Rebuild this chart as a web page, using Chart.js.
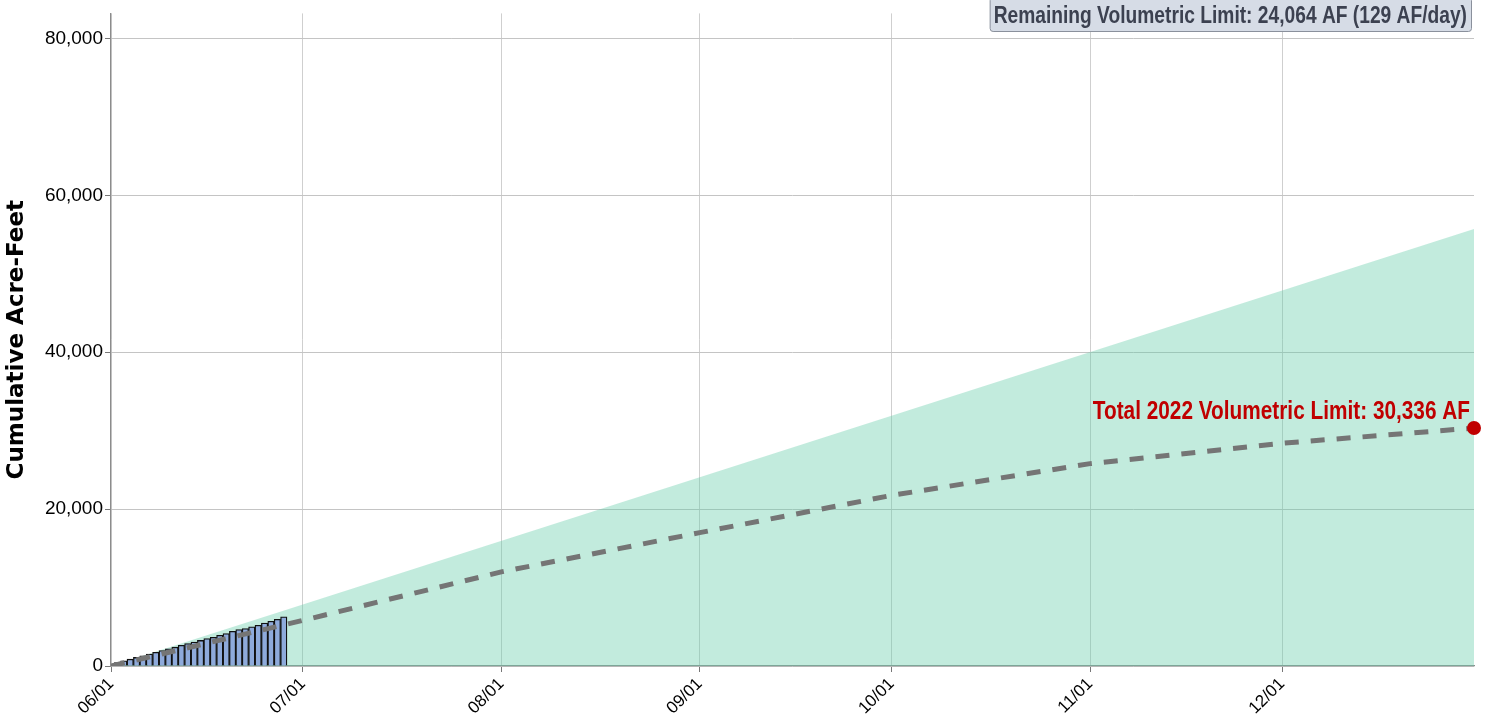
<!DOCTYPE html>
<html>
<head>
<meta charset="utf-8">
<script src="https://cdn.jsdelivr.net/npm/chart.js@4/dist/chart.umd.min.js"></script>
<style>
  html, body { margin: 0; padding: 0; background: #fff; }
  #wrap { width: 1490px; height: 726px; position: relative; }
</style>
</head>
<body>
<div id="wrap"><canvas id="volChart"></canvas></div>
<script>
/* values (x = days since 06/01) */
const tickDays = [0, 30, 61, 92, 122, 153, 183];
const tickLabels = ['06/01', '07/01', '08/01', '09/01', '10/01', '11/01', '12/01'];
const yTicks = [0, 20000, 40000, 60000, 80000];

const usedDays = [0, 1, 2, 3, 4, 5, 6, 7, 8, 9, 10, 11, 12, 13,
                  14, 15, 16, 17, 18, 19, 20, 21, 22, 23, 24, 25, 26, 27];
const usedValues = [210, 430, 650, 870, 1090, 1310, 1520, 1740, 1960, 2180, 2400, 2640, 2850, 3060,
                    3260, 3500, 3650, 3920, 4130, 4430, 4640, 4780, 4990, 5200, 5480, 5710, 5960, 6272];

const projDays = [0, 30, 61, 92, 122, 153, 183, 213];
const projValues = [0, 5820, 12000, 17000, 21750, 25800, 28400, 30336];

const limitDays = [0, 213];
const limitValues = [0, 55700];

const totalDay = 213;
const totalLimit = 30336;
const totalText = 'Total 2022 Volumetric Limit: 30,336 AF';
const remainingText = 'Remaining Volumetric Limit: 24,064 AF (129 AF/day)';

const SANS = '"Liberation Sans", Arial, sans-serif';
const SQUEEZE = 0.8; // fake a narrow face: no condensed font installed

// draw text squeezed horizontally, anchored like textAlign
function narrowText(ctx, text, x, y, align) {
  const w = ctx.measureText(text).width * SQUEEZE;
  let left = x;
  if (align === 'right') left = x - w;
  if (align === 'center') left = x - w / 2;
  ctx.save();
  ctx.translate(left, y);
  ctx.scale(SQUEEZE, 1);
  ctx.textAlign = 'left';
  ctx.fillText(text, 0, 0);
  ctx.restore();
  return w;
}

/* text notes: red total label + grey box at top right */
const notes = {
  id: 'notes',
  afterDatasetsDraw(chart) {
    const {ctx, chartArea, scales: {x, y}} = chart;
    const px = x.getPixelForValue(totalDay);
    const py = y.getPixelForValue(totalLimit);
    ctx.save();
    ctx.font = 'bold 26px ' + SANS;
    ctx.fillStyle = '#c00000';
    ctx.textBaseline = 'alphabetic';
    narrowText(ctx, totalText, px - 4, py - 9, 'right');

    ctx.font = 'bold 24px ' + SANS;
    const w = ctx.measureText(remainingText).width * SQUEEZE + 8;
    const right = chartArea.right - 3, top = -3, h = 34;
    ctx.beginPath();
    if (ctx.roundRect) ctx.roundRect(right - w + 0.5, top + 0.5, w, h, 3);
    else ctx.rect(right - w + 0.5, top + 0.5, w, h);
    ctx.fillStyle = '#d6dce6';
    ctx.fill();
    ctx.lineWidth = 1;
    ctx.strokeStyle = '#8a909c';
    ctx.stroke();
    ctx.fillStyle = '#3c4150';
    ctx.textBaseline = 'middle';
    narrowText(ctx, remainingText, right - w / 2, top + h / 2 + 2, 'center');
    ctx.restore();
  }
};

const toPoints = (xs, ys) => xs.map((d, i) => ({x: d, y: ys[i]}));

const volChart = new Chart(document.getElementById('volChart'), {
  data: {
    datasets: [
      {
        type: 'line',
        data: toPoints([totalDay], [totalLimit]),
        showLine: false,
        pointRadius: 7,
        pointHoverRadius: 7,
        pointBackgroundColor: '#c00000',
        pointBorderWidth: 0,
        clip: false,
        order: 0
      },
      {
        type: 'line',
        data: toPoints(projDays, projValues),
        borderColor: '#757575',
        borderWidth: 5,
        borderDash: [14, 12],
        pointRadius: 0,
        fill: false,
        tension: 0,
        order: 1
      },
      {
        type: 'bar',
        data: toPoints(usedDays, usedValues),
        backgroundColor: '#8eaadb',
        borderColor: '#111111',
        borderWidth: 1.3,
        barPercentage: 1,
        categoryPercentage: 1,
        order: 2
      },
      {
        type: 'line',
        data: toPoints(limitDays, limitValues),
        borderWidth: 0,
        pointRadius: 0,
        fill: 'origin',
        backgroundColor: 'rgba(102, 204, 170, 0.4)',
        order: 3
      }
    ]
  },
  options: {
    responsive: true,
    maintainAspectRatio: false,
    animation: false,
    layout: { padding: { top: 8, right: 16, left: 0, bottom: 0 } },
    plugins: {
      legend: { display: false },
      tooltip: { enabled: false }
    },
    scales: {
      x: {
        type: 'linear',
        min: 0,
        max: 213,
        offset: false,
        afterBuildTicks: (scale) => { scale.ticks = tickDays.map(v => ({value: v})); },
        afterFit: (scale) => { scale.height = 60; },
        ticks: {
          autoSkip: false,
          minRotation: 45,
          maxRotation: 45,
          padding: 2,
          color: '#000',
          font: { family: SANS, size: 17 },
          callback: (v) => tickLabels[tickDays.indexOf(v)]
        },
        grid: { offset: false, color: '#cfcfcf', tickColor: '#777', tickLength: 6 },
        border: { color: '#8c8c8c', width: 1.2 }
      },
      y: {
        min: 0,
        max: 83200,
        afterBuildTicks: (scale) => { scale.ticks = yTicks.map(v => ({value: v})); },
        afterFit: (scale) => { scale.width = 111; },
        ticks: {
          padding: 2,
          color: '#000',
          font: { family: SANS, size: 19 },
          callback: (v) => v.toLocaleString('en-US')
        },
        grid: { color: '#c4c4c4', tickColor: '#777', tickLength: 6 },
        border: { color: '#8c8c8c', width: 1.2 },
        title: {
          display: true,
          text: 'Cumulative Acre-Feet',
          color: '#000',
          font: { family: '"DejaVu Sans", sans-serif', size: 23, weight: 'bold' },
          padding: { top: 3, bottom: 0 }
        }
      }
    }
  },
  plugins: [notes]
});
</script>
</body>
</html>
